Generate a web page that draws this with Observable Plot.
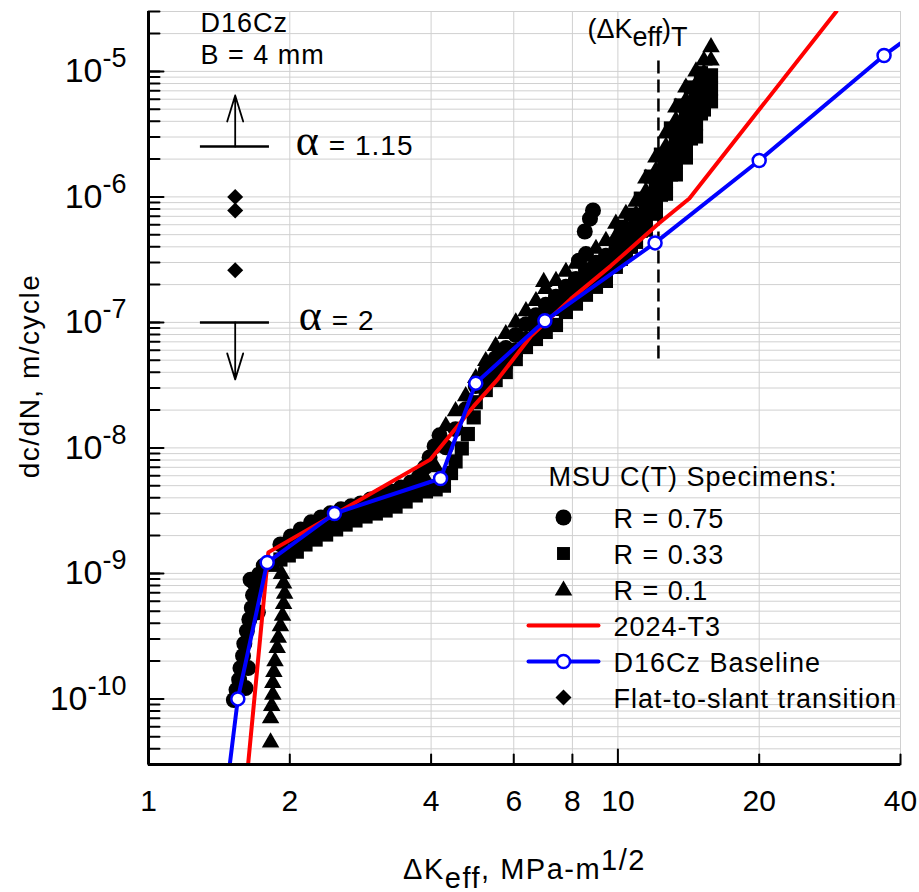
<!DOCTYPE html>
<html>
<head>
<meta charset="utf-8">
<script src="https://cdn.jsdelivr.net/npm/d3@7"></script>
<script src="https://cdn.jsdelivr.net/npm/@observablehq/plot@0.6"></script>
<style>
html,body{margin:0;padding:0;background:#fff;}
#chart svg{display:block;}
</style>
</head>
<body>
<div id="chart"></div>
<script>
// ---------------- data (ΔKeff [MPa·m^1/2], dc/dN [m/cycle]) ----------------
const circlesR075 = [
  [1.52,9.8e-11],[1.54,1.18e-10],[1.61,1.22e-10],[1.56,1.42e-10],[1.57,1.76e-10],[1.63,1.76e-10],
  [1.59,2.2e-10],[1.60,2.75e-10],[1.62,3.47e-10],[1.64,4.3e-10],[1.66,5.3e-10],[1.71,4.9e-10],
  [1.67,6.7e-10],[1.69,8.1e-10],[1.65,8.9e-10],[1.72,9.8e-10],[1.76,1.15e-9],
  [1.91,1.70e-9],[2.01,1.97e-9],[2.11,2.24e-9],[2.22,2.55e-9],[2.33,2.79e-9],[2.44,3.01e-9],
  [2.57,3.24e-9],[2.70,3.42e-9],[2.83,3.61e-9],[2.97,3.88e-9],[3.12,4.17e-9],[3.28,4.5e-9],
  [3.45,4.84e-9],[3.62,5.3e-9],[3.77,5.9e-9],[3.88,7.0e-9],[3.97,8.4e-9],[4.07,1.03e-8],[4.17,1.26e-8],
  [4.30,1.01e-8],[4.51,1.41e-8],[4.74,2.03e-8],[4.98,3.11e-8],[5.23,4.10e-8],[5.49,5.19e-8],
  [5.77,6.24e-8],[6.06,7.93e-8],[6.37,9.67e-8],[6.69,1.14e-7],[7.02,1.38e-7],[7.38,1.60e-7],
  [7.75,1.92e-7],[8.14,2.22e-7],[8.55,2.62e-7],[8.98,2.98e-7],[9.43,3.39e-7],
  [8.72,6.7e-7],[8.85,7.8e-7],[8.50,5.3e-7],[8.55,3.5e-7],[8.26,3.1e-7]
];
const squaresR033 = [
  [1.84,1.17e-9],[1.91,1.29e-9],[1.99,1.39e-9],[2.07,1.49e-9],[2.16,1.70e-9],[2.27,1.86e-9],
  [2.39,2.04e-9],[2.51,2.24e-9],[2.63,2.45e-9],[2.76,2.64e-9],[2.90,2.84e-9],[3.05,3.0e-9],
  [3.20,3.17e-9],[3.36,3.41e-9],[3.53,3.74e-9],[3.71,4.18e-9],[3.90,4.5e-9],[4.09,4.67e-9],
  [4.26,5.0e-9],[4.41,6.3e-9],[4.51,7.8e-9],[4.65,9.9e-9],[4.79,1.29e-8],[4.93,1.75e-8],
  [4.98,2.31e-8],[5.23,2.89e-8],[5.49,3.47e-8],[5.77,4.02e-8],[6.06,5.10e-8],[6.37,6.36e-8],
  [6.69,7.37e-8],[7.02,8.39e-8],[7.38,9.53e-8],[7.75,1.21e-7],[8.14,1.41e-7],[8.55,1.66e-7],
  [8.98,1.92e-7],[9.43,2.14e-7],[5.23,3.40e-8],[5.49,4.25e-8],
  [5.77,4.83e-8],[6.06,6.02e-8],[6.37,7.37e-8],[6.69,8.86e-8],[7.02,1.10e-7],[7.38,1.28e-7],
  [7.75,1.51e-7],[8.14,1.75e-7],[8.55,2.03e-7],[8.98,2.30e-7],[9.43,2.67e-7],
  [9.90,4.15e-7],[9.90,3.52e-7],[9.90,2.77e-7],
  [10.15,5.78e-7],[10.15,4.22e-7],[10.15,3.21e-7],
  [10.40,5.08e-7],[10.40,4.46e-7],[10.40,3.52e-7],
  [10.66,7.21e-7],[10.66,5.37e-7],[10.66,4.0e-7],
  [10.93,6.34e-7],[10.93,5.57e-7],[10.93,4.38e-7],
  [11.19,9.68e-7],[11.19,7.21e-7],[11.19,5.37e-7],
  [11.47,8.83e-7],[11.47,6.95e-7],[11.47,5.47e-7],
  [11.76,1.45e-6],[11.76,1.04e-6],[11.76,7.48e-7],
  [12.05,1.40e-6],[12.05,1.23e-6],[12.05,1.06e-6],[12.05,9.33e-7],[12.05,7.34e-7],
  [12.35,2.17e-6],[12.35,1.51e-6],[12.35,1.04e-6],
  [12.66,2.17e-6],[12.66,1.84e-6],[12.66,1.56e-6],[12.66,1.35e-6],[12.66,1.06e-6],
  [12.97,3.51e-6],[12.97,2.30e-6],[12.97,1.51e-6],
  [13.29,3.38e-6],[13.29,2.81e-6],[13.29,2.34e-6],[13.29,1.91e-6],[13.29,1.51e-6],
  [13.62,5.35e-6],[13.62,3.32e-6],[13.62,2.10e-6],
  [13.96,4.79e-6],[13.96,3.92e-6],[13.96,3.20e-6],[13.96,2.61e-6],[13.96,2.06e-6],
  [14.31,7.44e-6],[14.31,4.62e-6],[14.31,2.92e-6],
  [14.67,6.66e-6],[14.67,5.57e-6],[14.67,4.62e-6],[14.67,3.85e-6],[14.67,3.03e-6],
  [15.03,9.67e-6],[15.03,6.66e-6],[15.03,4.62e-6],
  [15.25,7.71e-6],[15.25,6.33e-6],[15.25,4.97e-6],
  [15.79,9.30e-6],[15.79,7.3e-6],[15.79,5.77e-6]
];
const trianglesR01 = [
  [1.82,4.5e-11],[1.82,7.0e-11],[1.83,8.8e-11],[1.84,1.08e-10],[1.84,1.34e-10],[1.85,1.64e-10],
  [1.86,2.0e-10],[1.88,2.55e-10],[1.89,3.07e-10],[1.91,3.8e-10],[1.93,4.6e-10],[1.94,5.7e-10],
  [1.95,6.9e-10],[1.94,8.3e-10],[1.92,9.9e-10],
  [1.96,1.55e-9],[2.06,1.76e-9],[2.16,2.0e-9],[2.27,2.24e-9],[2.39,2.45e-9],[2.51,2.64e-9],
  [2.63,2.89e-9],[2.76,3.06e-9],[2.90,3.29e-9],[3.05,3.48e-9],[3.20,3.74e-9],[3.36,4.03e-9],
  [3.53,4.34e-9],[3.71,4.84e-9],[3.90,5.61e-9],[4.09,7.0e-9],
  [4.30,1.49e-8],[4.51,1.96e-8],[4.74,2.58e-8],[4.98,3.60e-8],[5.23,4.92e-8],[5.49,6.48e-8],
  [5.77,8.08e-8],[6.06,1.0e-7],[6.37,1.23e-7],[6.69,1.48e-7],[6.95,2.1e-7],[7.02,1.85e-7],
  [7.38,2.14e-7],[7.75,2.53e-7],[8.14,2.93e-7],[8.55,3.39e-7],[8.98,3.86e-7],[9.43,4.46e-7],
  [9.90,6.11e-7],[9.90,4.80e-7],[10.40,7.34e-7],[10.40,5.78e-7],[10.93,9.16e-7],[10.93,7.21e-7],
  [11.47,1.40e-6],[11.47,1.10e-6],[12.05,2.06e-6],[12.05,1.62e-6],[12.66,3.20e-6],[12.66,2.52e-6],
  [13.29,5.15e-6],[13.29,4.07e-6],[13.96,7.44e-6],[13.96,5.88e-6],[14.67,1.0e-5],[14.67,7.86e-6],
  [15.25,1.22e-5],[15.25,9.67e-6],[15.79,1.56e-5],[15.79,1.22e-5]
];
const flatToSlant = [[1.53,1.0e-6],[1.53,7.8e-7],[1.53,2.6e-7]];

const alloy2024T3 = [
  [1.63,3.0e-11],[1.80,1.47e-9],[3.99,8.1e-9],[4.93,2.15e-8],[5.55,3.53e-8],[6.53,7.8e-8],
  [7.94,1.54e-7],[9.66,2.82e-7],[12.2,6.1e-7],[14.2,9.7e-7],[29.2,3.0e-5]
];
const d16czBaseline = [
  [1.49,3.0e-11],[1.55,1.0e-10],[1.79,1.22e-9],[2.49,3.0e-9],[4.19,5.7e-9],[4.98,3.28e-8],
  [6.99,1.03e-7],[12.0,4.3e-7],[20.0,1.95e-6],[36.9,1.34e-5],[40,1.67e-5]
];
const baselineMarkers = d16czBaseline.slice(1, -1);

const transitionK = [12.2];
const transitionRange = [5.1e-8, 1.27e-5];

const alphaUp = [{rate: 2.52e-6, alpha: "= 1.15", textK: 2.06}];
const alphaDown = [{rate: 1.0e-7, alpha: "= 2", textK: 2.09}];
const alphaLevels = [...alphaUp, ...alphaDown];
const alphaBarK = [1.29, 1.81];
const alphaArrowK = 1.53;

const xTickValues = [1, 2, 4, 6, 8, 10, 20, 40];
const xTickLabels = ["1", "2", "4", "6", "8", "10", "20", "40"];
const yDecades = [1e-10, 1e-9, 1e-8, 1e-7, 1e-6, 1e-5];
const yTickLabels = ["10^{-10}", "10^{-9}", "10^{-8}", "10^{-7}", "10^{-6}", "10^{-5}"];

const legendTitle = "MSU C(T) Specimens:";
const legendItems = [
  {label: "R = 0.75", kind: "circle"},
  {label: "R = 0.33", kind: "square"},
  {label: "R = 0.1", kind: "triangle"},
  {label: "2024-T3", kind: "red"},
  {label: "D16Cz Baseline", kind: "blue"},
  {label: "Flat-to-slant transition", kind: "diamond"}
];
const specimenNotes = ["D16Cz", "B = 4 mm"];
const xLabel = "ΔK_{eff}, MPa-m^{1/2}";
const yLabel = "dc/dN, m/cycle";
const transitionLabel = "(ΔK_{eff})_{T}";

// ---------------- helpers ----------------
const yGrid = [];
for (let e = -11; e <= -5; e++) for (let m = 1; m <= 9; m++) {
  const v = m * Math.pow(10, e);
  if (v >= 2.99e-11 && v <= 3.01e-5) yGrid.push(v);
}
const tickShape = {draw(c, l) { c.moveTo(0, 0); c.lineTo(0, -l); }};
const openArrow = {draw(c, l) {
  c.moveTo(0, 0); c.lineTo(0, -l);
  c.moveTo(-8, 26 - l); c.lineTo(0, -l); c.lineTo(8, 26 - l);
}};

function styled({ls = null, supSize = null, supShift = 0, subSize = null, subShift = 0} = {}) {
  return (index, scales, values, dims, ctx, next) => {
    const g = next(index, scales, values, dims, ctx);
    if (ls != null) g.setAttribute("letter-spacing", ls);
    d3.select(g).selectAll("text").each(function () {
      const s = this.textContent;
      if (!/[\^_]\{/.test(s)) return;
      while (this.firstChild) this.removeChild(this.firstChild);
      const re = /([\^_])\{([^}]*)\}|([^\^_]+)/g;
      let m, cur = 0;
      while ((m = re.exec(s))) {
        const ts = document.createElementNS("http://www.w3.org/2000/svg", "tspan");
        let target = 0;
        if (m[1] === "^") { target = -supShift; if (supSize) ts.setAttribute("font-size", supSize); ts.textContent = m[2]; }
        else if (m[1] === "_") { target = subShift; if (subSize) ts.setAttribute("font-size", subSize); ts.textContent = m[2]; }
        else ts.textContent = m[3];
        if (target !== cur) ts.setAttribute("dy", target - cur);
        cur = target;
        this.appendChild(ts);
      }
    });
    return g;
  };
}

const RC = 8, RS = 8, RT = 6.5, RD = 7.2;
const LX = 415, LY0 = 506, LSTEP = 36, LTX = 465;
const legendMarks = [];
legendMarks.push(Plot.text([legendTitle], {frameAnchor: "top-left", dx: 400, dy: 474, lineAnchor: "bottom", textAnchor: "start", fontSize: 27, render: styled({ls: 1})}));
legendItems.forEach((it, i) => {
  const dy = LY0 + i * LSTEP;
  if (it.kind === "circle") legendMarks.push(Plot.dot([it], {frameAnchor: "top-left", dx: LX, dy, r: RC, fill: "black", symbol: "circle"}));
  if (it.kind === "square") legendMarks.push(Plot.dot([it], {frameAnchor: "top-left", dx: LX, dy, r: 7.3, fill: "black", symbol: "square"}));
  if (it.kind === "triangle") legendMarks.push(Plot.dot([it], {frameAnchor: "top-left", dx: LX, dy: dy + 1, r: RT, fill: "black", symbol: "triangle"}));
  if (it.kind === "diamond") legendMarks.push(Plot.dot([it], {frameAnchor: "top-left", dx: LX, dy, r: RD, fill: "black", symbol: "diamond2"}));
  if (it.kind === "red" || it.kind === "blue") {
    legendMarks.push(Plot.vector([it], {frameAnchor: "top-left", dx: LX, dy, length: 70, rotate: 90, anchor: "middle", shape: tickShape, stroke: it.kind === "red" ? "#ff0000" : "#0000ff", strokeWidth: 4}));
  }
  if (it.kind === "blue") legendMarks.push(Plot.dot([it], {frameAnchor: "top-left", dx: LX, dy, r: 6.5, fill: "white", stroke: "#0000ff", strokeWidth: 2.5}));
  legendMarks.push(Plot.text([it.label], {frameAnchor: "top-left", dx: LTX, dy: dy + 10, lineAnchor: "bottom", textAnchor: "start", fontSize: 27, render: styled({ls: 1})}));
});

const chart = Plot.plot({
  width: 919, height: 892,
  marginLeft: 148, marginRight: 19, marginTop: 11, marginBottom: 128,
  style: {fontFamily: "'Liberation Sans', Arial, sans-serif", fontSize: "27px", color: "black", background: "white", overflow: "visible"},
  x: {type: "log", domain: [1, 40], axis: null},
  y: {type: "log", domain: [3e-11, 3e-5], axis: null},
  marks: [
    Plot.ruleY(yGrid, {stroke: "#d0d0d0", strokeWidth: 1}),
    Plot.ruleX(xTickValues, {stroke: "#d0d0d0", strokeWidth: 1}),
    // scatter
    Plot.dot(circlesR075, {x: d => d[0], y: d => d[1], r: RC, fill: "black", symbol: "circle"}),
    Plot.dot(squaresR033, {x: d => d[0], y: d => d[1], r: RS, fill: "black", symbol: "square"}),
    Plot.dot(trianglesR01, {x: d => d[0], y: d => d[1], r: RT, fill: "black", symbol: "triangle"}),
    Plot.dot(flatToSlant, {x: d => d[0], y: d => d[1], r: RD, fill: "black", symbol: "diamond2"}),
    // dashed transition
    Plot.ruleX(transitionK, {x: d => d, y1: transitionRange[0], y2: transitionRange[1], stroke: "black", strokeWidth: 2.5, strokeDasharray: "13,6"}),
    // curves
    Plot.line(alloy2024T3, {x: d => d[0], y: d => d[1], stroke: "#ff0000", strokeWidth: 4, clip: true}),
    Plot.line(d16czBaseline, {x: d => d[0], y: d => d[1], stroke: "#0000ff", strokeWidth: 4, clip: true}),
    Plot.dot(baselineMarkers, {x: d => d[0], y: d => d[1], r: 6.5, fill: "white", stroke: "#0000ff", strokeWidth: 2.5}),
    // alpha annotations
    Plot.ruleY(alphaLevels, {y: "rate", x1: alphaBarK[0], x2: alphaBarK[1], stroke: "black", strokeWidth: 2.5}),
    Plot.vector(alphaUp, {x: () => alphaArrowK, y: "rate", length: 51, rotate: 0, anchor: "start", shape: openArrow, stroke: "black", strokeWidth: 1.8}),
    Plot.vector(alphaDown, {x: () => alphaArrowK, y: "rate", length: 57, rotate: 180, anchor: "start", shape: openArrow, stroke: "black", strokeWidth: 1.8}),
    Plot.text(alphaLevels, {x: "textK", y: "rate", text: () => "α", dy: 8, lineAnchor: "bottom", textAnchor: "start", fontSize: 44, fontFamily: "'Liberation Serif', 'Times New Roman', serif"}),
    Plot.text(alphaLevels, {x: "textK", y: "rate", text: "alpha", dx: 33, dy: 8, lineAnchor: "bottom", textAnchor: "start", fontSize: 28, render: styled({ls: 1})}),
    // axes
    Plot.ruleX([1], {stroke: "black", strokeWidth: 3}),
    Plot.ruleY([3e-11], {stroke: "black", strokeWidth: 3}),
    Plot.vector(yGrid, {x: () => 1, y: d => d, length: 11, rotate: 90, anchor: "start", shape: tickShape, stroke: "black", strokeWidth: 2}),
    Plot.vector(yDecades, {x: () => 1, y: d => d, length: 15, rotate: 90, anchor: "start", shape: tickShape, stroke: "black", strokeWidth: 2}),
    Plot.vector(xTickValues.filter(d => d !== 10), {x: d => d, y: () => 3e-11, length: 10, anchor: "start", shape: tickShape, stroke: "black", strokeWidth: 2}),
    Plot.vector([10], {x: d => d, y: () => 3e-11, length: 15, anchor: "start", shape: tickShape, stroke: "black", strokeWidth: 2}),
    Plot.text(xTickValues, {x: d => d, text: (d, i) => xTickLabels[i], frameAnchor: "bottom", dy: 46, lineAnchor: "bottom", fontSize: 30}),
    Plot.text(yDecades, {y: d => d, text: (d, i) => yTickLabels[i], frameAnchor: "left", dx: -22, textAnchor: "end", lineAnchor: "middle", fontSize: 34, render: styled({supSize: 27, supShift: 15})}),
    Plot.text([xLabel], {frameAnchor: "bottom", dy: 114, lineAnchor: "bottom", textAnchor: "middle", fontSize: 29, render: styled({ls: 1.5, supShift: 9, subShift: 9})}),
    Plot.text([yLabel], {frameAnchor: "left", dx: -118, dy: -12, rotate: -90, lineAnchor: "middle", textAnchor: "middle", fontSize: 28, render: styled({ls: 1.5})}),
    // text annotations
    Plot.text([specimenNotes[0]], {frameAnchor: "top-left", dx: 52, dy: 20, lineAnchor: "bottom", textAnchor: "start", fontSize: 27, render: styled({ls: 1})}),
    Plot.text([specimenNotes[1]], {frameAnchor: "top-left", dx: 52, dy: 52, lineAnchor: "bottom", textAnchor: "start", fontSize: 27, render: styled({ls: 1})}),
    Plot.text([transitionLabel], {frameAnchor: "top-left", dx: 439, dy: 26, lineAnchor: "bottom", textAnchor: "start", fontSize: 27, render: styled({subShift: 8})}),
    ...legendMarks
  ]
});
document.getElementById("chart").appendChild(chart);
</script>
</body>
</html>
